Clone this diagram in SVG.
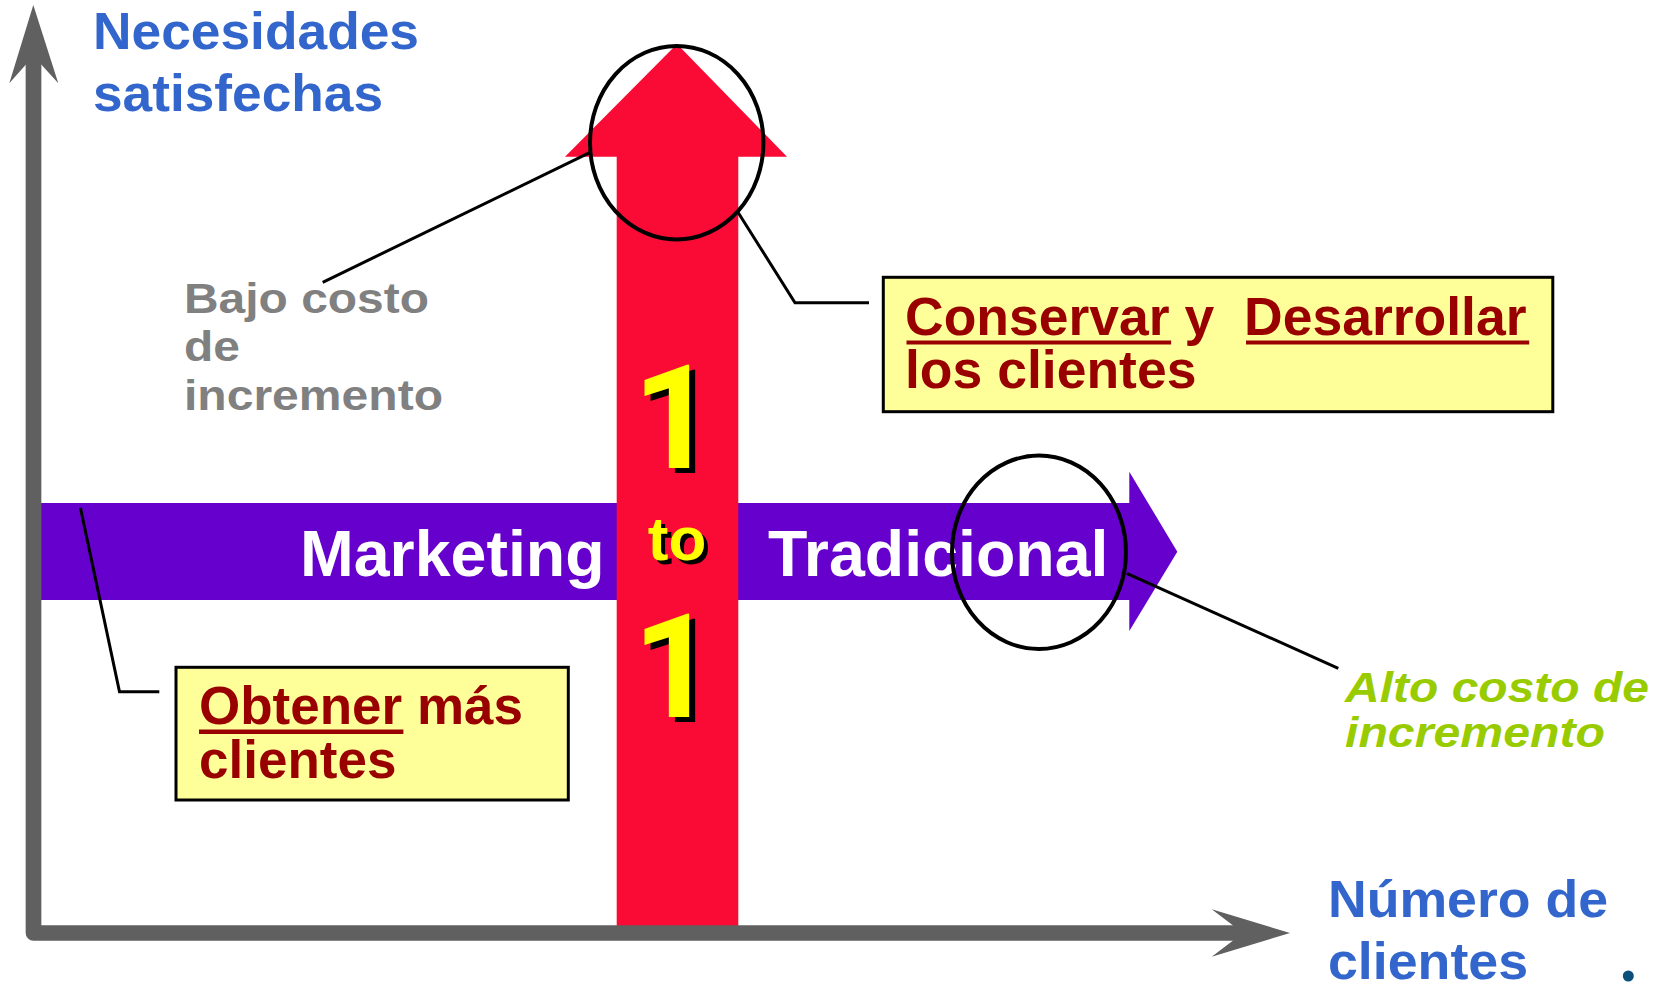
<svg xmlns="http://www.w3.org/2000/svg" width="1658" height="986" viewBox="0 0 1658 986">
<style>
text{font-family:"Liberation Sans",Arial,sans-serif;font-weight:bold}
.axislbl{fill:#3366CC;font-size:52px}
.box{fill:#FFFF99;stroke:#000;stroke-width:3}
.boxtxt{fill:#990000;font-size:53.5px}
.ul{fill:#990000}
.band{fill:#FFFFFF;font-size:64.5px}
.big{font-family:Roboto,"Noto Sans",Arial,sans-serif;font-size:144px;text-anchor:middle}
.to{font-size:62px;text-anchor:middle}
.y{fill:#FFFF00}
.sh{fill:#000}
.gray{fill:#808080;font-size:42px}
.green{fill:#99CC00;font-size:43px;font-style:italic}
.conn{fill:none;stroke:#000;stroke-width:3}
.ring{fill:none;stroke:#000;stroke-width:4}
</style>
<rect width="1658" height="986" fill="#FFFFFF"/>

<g id="traditional-arrow">
<polygon points="34,503 1129.3,503 1129.3,471.7 1177.3,551.7 1129.3,631 1129.3,600 34,600" fill="#6600CC"/>
<text class="band" x="300" y="575.5">Marketing</text>
<text class="band" x="768" y="575.5">Tradicional</text>
</g>

<g id="one-to-one-arrow">
<polygon points="616.7,926 616.7,156.7 565,156.7 677,44 787,156.7 738.3,156.7 738.3,926" fill="#F90B35"/>
<text class="big sh" x="680" y="473">1</text>
<text class="big y" x="674" y="467.7">1</text>
<text class="to sh" x="681" y="564">to</text>
<text class="to y" x="677" y="560">to</text>
<text class="big sh" x="680" y="722">1</text>
<text class="big y" x="674" y="716.7">1</text>
</g>

<g id="axes">
<polyline points="33.5,56 33.5,933 1245,933" fill="none" stroke="#606060" stroke-width="15.7" stroke-linejoin="round"/>
<polygon points="33.3,5 58.3,83.3 33.5,56 9.3,83.3" fill="#606060"/>
<polygon points="1290,933 1211.7,909.3 1243,933 1211.7,956.7" fill="#606060"/>
</g>

<g id="y-axis-label">
<text class="axislbl" x="93" y="48.5" textLength="326" lengthAdjust="spacingAndGlyphs">Necesidades</text>
<text class="axislbl" x="93" y="110.5" textLength="290" lengthAdjust="spacingAndGlyphs">satisfechas</text>
</g>

<g id="x-axis-label">
<text class="axislbl" x="1328" y="916.7" textLength="280" lengthAdjust="spacingAndGlyphs">Número de</text>
<text class="axislbl" x="1328" y="978.5" textLength="200" lengthAdjust="spacingAndGlyphs">clientes</text>
</g>

<g id="connectors">
<ellipse class="ring" cx="676.7" cy="142.7" rx="86.7" ry="96.7"/>
<ellipse class="ring" cx="1039" cy="552.3" rx="87" ry="96.7"/>
<polyline class="conn" points="869,302.7 795,302.7 738.3,212.7"/>
<line class="conn" x1="591.7" y1="151.7" x2="322.7" y2="282.3"/>
<line class="conn" x1="1126.7" y1="573.3" x2="1338.3" y2="668.3"/>
<polyline class="conn" points="80.4,507.7 119.5,691.7 159.3,691.7"/>
</g>

<g id="box-conservar">
<rect class="box" x="883.3" y="277.3" width="669.5" height="134.4"/>
<text class="boxtxt" x="905"><tspan y="335">Conservar y</tspan><tspan x="1244" y="335">Desarrollar</tspan><tspan x="905" y="388.3">los clientes</tspan></text>
<rect class="ul" x="906.5" y="340.5" width="264.6" height="4"/>
<rect class="ul" x="1246" y="340.5" width="283.2" height="4"/>
</g>

<g id="box-obtener">
<rect class="box" x="176" y="667.3" width="392.3" height="132.7"/>
<text class="boxtxt" x="199" style="font-size:53px"><tspan y="724">Obtener más</tspan><tspan x="199" y="778.3">clientes</tspan></text>
<rect class="ul" x="199" y="729.5" width="204.4" height="4.5"/>
</g>

<g id="bajo-costo">
<text class="gray" x="184" y="313.3" textLength="245" lengthAdjust="spacingAndGlyphs">Bajo costo</text>
<text class="gray" x="184" y="361" textLength="56" lengthAdjust="spacingAndGlyphs">de</text>
<text class="gray" x="184" y="410" textLength="259" lengthAdjust="spacingAndGlyphs">incremento</text>
</g>

<g id="alto-costo">
<text class="green" x="1345" y="701.7" textLength="304" lengthAdjust="spacingAndGlyphs">Alto costo de</text>
<text class="green" x="1345" y="747" textLength="260" lengthAdjust="spacingAndGlyphs">incremento</text>
</g>

<circle id="dot" cx="1628.3" cy="976" r="5.5" fill="#0B4F7C"/>
</svg>
